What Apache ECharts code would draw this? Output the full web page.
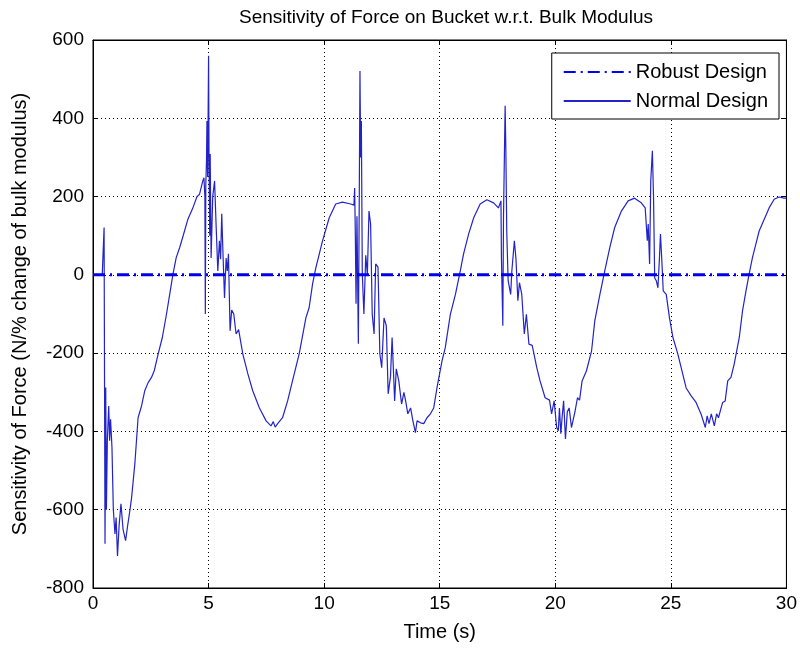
<!DOCTYPE html>
<html>
<head>
<meta charset="utf-8">
<script src="https://cdn.jsdelivr.net/npm/echarts@6/dist/echarts.min.js"></script>
<style>html,body{margin:0;padding:0;background:#fff}#chart{width:800px;height:650px}</style>
</head>
<body>
<div id="chart"></div>
<script>
// ---- data ----
const titleText = 'Sensitivity of Force on Bucket w.r.t. Bulk Modulus';
const xName = 'Time (s)';
const yName = 'Sensitivity of Force (N/% change of bulk modulus)';
const seriesNames = ['Robust Design', 'Normal Design'];

const robustTime = [0, 30];
const robustForce = [0, 0];

const normalTime = [
  0, 0.40, 0.46, 0.48, 0.50, 0.52, 0.55, 0.58, 0.62, 0.68, 0.72, 0.76, 0.82, 0.88, 0.95, 1.00, 1.06, 1.13, 1.21, 1.30,
  1.41, 1.50, 1.60, 1.67, 1.81, 1.95, 2.10, 2.24, 2.38, 2.53, 2.65, 2.82, 3.00, 3.18, 3.32, 3.46, 3.60, 3.75, 3.90, 4.11,
  4.30, 4.50, 4.61, 4.75, 4.80, 4.84, 4.86, 4.88, 4.91, 4.93, 4.96, 5.00, 5.02, 5.05, 5.07, 5.11, 5.18, 5.26, 5.33, 5.40,
  5.47, 5.52, 5.57, 5.63, 5.69, 5.76, 5.81, 5.86, 5.93, 6.00, 6.09, 6.19, 6.30, 6.48, 6.70, 6.91, 7.20, 7.49, 7.70, 7.80,
  7.88, 7.99, 8.20, 8.42, 8.63, 8.92, 9.21, 9.35, 9.50, 9.64, 9.93, 10.22, 10.50, 10.79, 11.15, 11.29, 11.32, 11.35, 11.38, 11.42,
  11.48, 11.52, 11.55, 11.58, 11.61, 11.65, 11.72, 11.80, 11.87, 11.94, 12.01, 12.08, 12.16, 12.23, 12.33, 12.41, 12.49, 12.59, 12.69, 12.77,
  12.87, 12.94, 13.05, 13.12, 13.23, 13.35, 13.45, 13.52, 13.62, 13.74, 13.84, 13.95, 14.02, 14.17, 14.31, 14.45, 14.60, 14.74, 14.88, 15.10,
  15.24, 15.46, 15.68, 15.89, 16.03, 16.25, 16.47, 16.75, 17.04, 17.33, 17.54, 17.65, 17.67, 17.73, 17.76, 17.83, 17.86, 17.90, 17.96, 18.07,
  18.12, 18.23, 18.30, 18.38, 18.45, 18.55, 18.66, 18.75, 18.86, 19.00, 19.20, 19.34, 19.56, 19.75, 19.84, 19.95, 20.06, 20.13, 20.18, 20.24,
  20.30, 20.36, 20.44, 20.52, 20.60, 20.70, 20.78, 20.85, 20.96, 21.05, 21.16, 21.35, 21.57, 21.71, 21.93, 22.14, 22.36, 22.57, 22.86, 23.15,
  23.43, 23.72, 23.89, 23.98, 24.02, 24.08, 24.13, 24.20, 24.25, 24.30, 24.37, 24.44, 24.50, 24.55, 24.61, 24.67, 24.80, 24.94, 25.09, 25.30,
  25.52, 25.66, 25.88, 26.09, 26.31, 26.49, 26.57, 26.65, 26.75, 26.88, 26.98, 27.06, 27.24, 27.35, 27.46, 27.60, 27.74, 27.96, 28.10, 28.25,
  28.39, 28.53, 28.68, 28.82, 29.04, 29.25, 29.47, 29.68, 29.90, 30.00
];
const normalForce = [
  0, 0, 2, 121, -290, -687, -288, -600, -424, -335, -424, -369, -440, -600, -662, -620, -718, -640, -585, -650,
  -679, -640, -600, -569, -483, -365, -335, -296, -276, -262, -245, -202, -160, -100, -49, 2, 44, 70, 100, 143,
  168, 200, 206, 240, 248, 200, -100, 230, 290, 393, 250, 560, 300, 100, 309, 43, 200, 240, 120, 10,
  87, 40, 156, 43, -59, 43, 10, 54, -143, -90, -100, -151, -140, -202, -253, -296, -340, -373, -386, -375,
  -389, -380, -365, -322, -271, -202, -110, -84, -23, 18, 87, 146, 181, 186, 181, 178, 222, 100, -74, 150,
  -176, 200, 521, 300, 393, 3, -100, 50, 0, 163, 130, -100, -151, 28, 20, -202, -237, -110, -130, -304,
  -260, -160, -322, -240, -271, -330, -300, -320, -355, -340, -373, -403, -373, -378, -380, -365, -355, -340, -289, -220,
  -186, -101, -50, 10, 53, 104, 146, 181, 192, 184, 171, 189, 44, -130, 150, 432, 325, 112, -15, -50,
  10, 87, 40, -66, -20, -50, -151, -101, -177, -180, -237, -271, -314, -320, -355, -322, -390, -398, -340, -406,
  -360, -322, -419, -350, -340, -390, -390, -350, -314, -320, -271, -245, -194, -117, -50, 10, 70, 121, 163, 189,
  196, 184, 171, 87, 130, 28, 240, 317, 200, -8, -15, -33, 36, 104, 36, -41, -50, -110, -160, -202,
  -255, -289, -309, -326, -356, -390, -360, -380, -355, -386, -355, -365, -326, -322, -271, -262, -228, -160, -92, -41,
  3, 44, 79, 112, 142, 171, 193, 199, 196, 196
];

const xMin = 0, xMax = 30, xStep = 5;
const yMin = -800, yMax = 600, yStep = 200;

// ---- chart ----
const font = 'Liberation Sans, Arial, sans-serif';
const chart = echarts.init(document.getElementById('chart'), null, {renderer: 'canvas'});
const zip = (a, b) => a.map((v, i) => [v, b[i]]);

const baseX = {type: 'value', min: xMin, max: xMax, interval: xStep};
const baseY = {type: 'value', min: yMin, max: yMax, interval: yStep};
const robustStyle = {color: '#0000ee', width: 3, type: [12, 5, 2, 5]};
const normalStyle = {color: '#2323c8', width: 1.2, type: 'solid'};

chart.setOption({
  animation: false,
  backgroundColor: '#fff',
  title: {
    text: titleText, left: 441, top: 3, textAlign: 'center',
    textStyle: {fontFamily: font, fontSize: 19, fontWeight: 'normal', color: '#000'}
  },
  grid: {left: 93, right: 11, top: 40, bottom: 62, show: true, borderColor: '#000', borderWidth: 1, backgroundColor: '#fff'},
  legend: {
    data: seriesNames,
    orient: 'vertical', right: 21, top: 53, align: 'left',
    itemWidth: 67, itemHeight: 14, itemGap: 7,
    padding: [8, 11, 7, 11],
    itemStyle: {color: 'rgba(0,0,0,0)', borderWidth: 0, opacity: 0},
    backgroundColor: '#fff', borderColor: '#000', borderWidth: 1, borderRadius: 0,
    textStyle: {fontFamily: font, fontSize: 20, color: '#000', lineHeight: 22}
  },
  xAxis: [
    Object.assign({}, baseX, {
      position: 'bottom', name: xName, nameLocation: 'middle', nameGap: 34,
      nameTextStyle: {fontFamily: font, fontSize: 20, color: '#000'},
      axisLine: {show: true, onZero: false, lineStyle: {color: '#000'}},
      axisTick: {show: true, inside: true, length: 5, lineStyle: {color: '#000'}},
      axisLabel: {fontFamily: font, fontSize: 19, color: '#000', margin: 6},
      splitLine: {show: true, lineStyle: {type: [1, 3], color: '#000', width: 1}}
    }),
    Object.assign({}, baseX, {
      position: 'top',
      axisLine: {show: true, onZero: false, lineStyle: {color: '#000'}},
      axisTick: {show: true, inside: true, length: 5, lineStyle: {color: '#000'}},
      axisLabel: {show: false}, splitLine: {show: false}
    })
  ],
  yAxis: [
    Object.assign({}, baseY, {
      position: 'left', name: yName, nameLocation: 'middle', nameGap: 63,
      nameTextStyle: {fontFamily: font, fontSize: 20, color: '#000'},
      axisLine: {show: true, onZero: false, lineStyle: {color: '#000'}},
      axisTick: {show: true, inside: true, length: 5, lineStyle: {color: '#000'}},
      axisLabel: {fontFamily: font, fontSize: 19, color: '#000', margin: 9},
      splitLine: {show: true, lineStyle: {type: [1, 3], color: '#000', width: 1}}
    }),
    Object.assign({}, baseY, {
      position: 'right',
      axisLine: {show: true, onZero: false, lineStyle: {color: '#000'}},
      axisTick: {show: true, inside: true, length: 5, lineStyle: {color: '#000'}},
      axisLabel: {show: false}, splitLine: {show: false}
    })
  ],
  series: [
    {
      name: seriesNames[0], type: 'line', xAxisIndex: 0, yAxisIndex: 0,
      data: zip(robustTime, robustForce), showSymbol: false, symbol: 'none', z: 3,
      lineStyle: robustStyle, itemStyle: {color: '#0000ee'}
    },
    {
      name: seriesNames[1], type: 'line', xAxisIndex: 0, yAxisIndex: 0,
      data: zip(normalTime, normalForce), showSymbol: false, symbol: 'none', z: 2,
      lineStyle: normalStyle, itemStyle: {color: '#2323c8'}
    }
  ]
});
</script>
</body>
</html>
